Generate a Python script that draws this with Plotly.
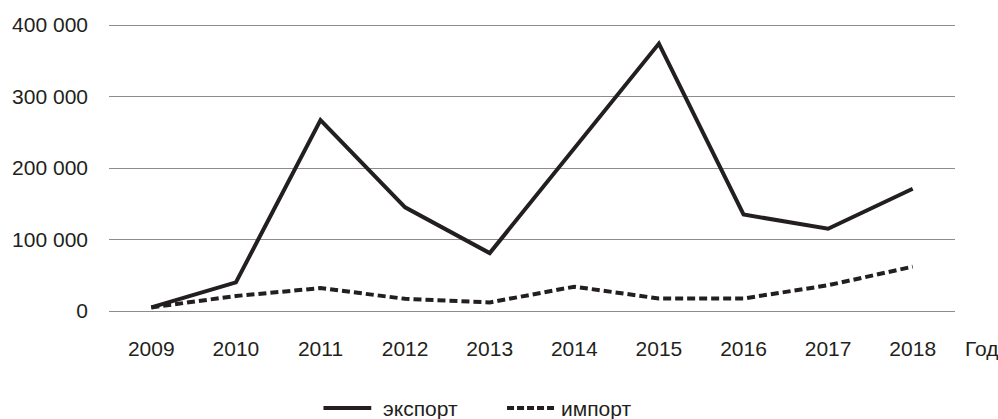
import plotly.graph_objects as go

years = ["2009", "2010", "2011", "2012", "2013", "2014", "2015", "2016", "2017", "2018"]
export_vals = [5000, 40000, 267000, 145000, 81000, 228000, 374000, 135000, 115000, 171000]
import_vals = [5000, 21000, 32000, 17000, 12000, 34000, 17500, 17500, 36000, 62000]
y_ticks = [0, 100000, 200000, 300000, 400000]
series_names = ["экспорт", "импорт"]
x_title = "Год"

ink = "#231f20"
FS = 21
DASH = "8px,4px"

fig = go.Figure()
fig.add_trace(go.Scatter(x=years, y=export_vals, mode="lines", name=series_names[0],
                         line=dict(color=ink, width=4)))
fig.add_trace(go.Scatter(x=years, y=import_vals, mode="lines", name=series_names[1],
                         line=dict(color=ink, width=4, dash=DASH)))

# custom legend (paper coordinates)
ly = -0.3276
shapes = [
    dict(type="line", xref="paper", yref="paper", x0=0.2535, x1=0.310, y0=ly, y1=ly,
         line=dict(color=ink, width=4)),
    dict(type="line", xref="paper", yref="paper", x0=0.4705, x1=0.528, y0=ly, y1=ly,
         line=dict(color=ink, width=4, dash="7px,3px")),
]
annotations = [
    dict(text=series_names[0], xref="paper", yref="paper", x=0.322, y=ly,
         xanchor="left", yanchor="middle", showarrow=False, font=dict(size=FS, color=ink)),
    dict(text=series_names[1], xref="paper", yref="paper", x=0.532, y=ly,
         xanchor="left", yanchor="middle", showarrow=False, font=dict(size=FS, color=ink)),
    dict(text=x_title, xref="paper", yref="paper", x=1.0094, y=-0.124,
         xanchor="left", yanchor="middle", showarrow=False, font=dict(size=FS, color=ink)),
]

fig.update_layout(
    width=998, height=419,
    margin=dict(l=107, r=43, t=23, b=106),
    paper_bgcolor="white", plot_bgcolor="white",
    font=dict(family="Liberation Sans, Arial", size=FS, color=ink),
    separators=", ",
    showlegend=False,
    shapes=shapes,
    annotations=annotations,
    xaxis=dict(type="category", range=[-0.5, 9.5], showgrid=False, showline=False,
               zeroline=False, ticks="", ticklabelstandoff=21, tickfont=dict(size=FS)),
    yaxis=dict(range=[-2800, 402800], tickvals=y_ticks, tickformat=",d",
               showgrid=True, gridcolor="#8c8c8c", gridwidth=1,
               zeroline=False, showline=False, ticks="", ticklabelstandoff=20,
               tickfont=dict(size=FS)),
)

fig.write_html("out.html", config={"displayModeBar": False},
               post_script="document.body.style.margin='0';document.body.style.overflow='hidden';")
